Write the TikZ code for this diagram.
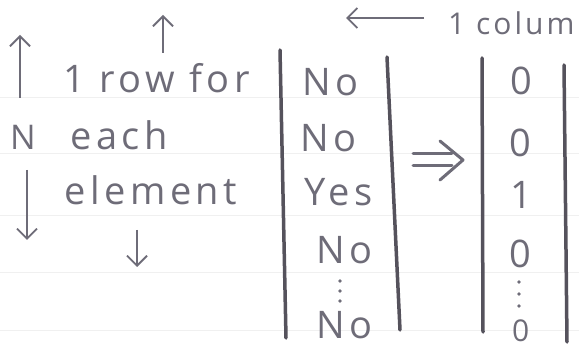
\documentclass[tikz,border=0pt]{standalone}
\usepackage{fontspec}
\setmainfont{Open Sans}
\usetikzlibrary{arrows.meta}
\definecolor{pencil}{HTML}{6E6C78}
\definecolor{bar}{HTML}{55525C}
\tikzset{
  hand/.style={text=pencil, font=\fontsize{38}{40}\selectfont\addfontfeature{LetterSpace=12}, inner sep=0pt, anchor=base west},
  handsm/.style={text=pencil, font=\fontsize{34}{36}\selectfont, inner sep=0pt, anchor=base west},
  harrow/.style={draw=pencil, line width=1.8pt, -{Straight Barb[length=10pt,width=20pt]}},
  barline/.style={draw=bar, line width=3.5pt, line cap=round},
  implies/.style={draw=pencil, line width=3pt, line cap=round},
  ruled/.style={draw=gray!12, line width=0.8pt},
  dotsy/.style={fill=pencil, circle, inner sep=1.3pt}
}
\begin{document}
\begin{tikzpicture}[x=1pt,y=-1pt]
\useasboundingbox (0,0) rectangle (579,350);
\clip (0,0) rectangle (579,350);
\fill[white] (0,0) rectangle (579,350);
% faint notebook lines
\foreach \yy in {97,153,215,272,330} \draw[ruled] (0,\yy) -- (579,\yy);
% left N arrows
\coordinate (na) at (20,98); \coordinate (nb) at (20,35);
\draw[harrow] (na) -- (nb);
\node[handsm] (N) at (10,150) {N};
\coordinate (nc) at (27,170); \coordinate (nd) at (27,240);
\draw[harrow] (nc) -- (nd);
% text block
\coordinate (ua) at (163,53); \coordinate (ub) at (163,15);
\draw[harrow] (ua) -- (ub);
\node[hand] (t1) at (63,93) {1 row for};
\node[hand] (t2) at (70,150) {each};
\node[hand] (t3) at (64,205) {element};
\coordinate (da) at (137,230); \coordinate (db) at (137,267);
\draw[harrow] (da) -- (db);
% left vector
\coordinate (b1t) at (280,50); \coordinate (b1b) at (286,338);
\draw[barline] (b1t) -- (b1b);
\node[hand] (y1) at (302,96) {No};
\node[hand] (y2) at (300,152) {No};
\node[hand] (y3) at (304,206) {Yes};
\node[hand] (y4) at (316,263) {No};
\node[dotsy] (yd1) at (340,281) {};
\node[dotsy] (yd2) at (340,291) {};
\node[dotsy] (yd3) at (340,301) {};
\node[hand] (y5) at (316,338) {No};
\coordinate (b2t) at (387,57); \coordinate (b2b) at (400,330);
\draw[barline] (b2t) -- (b2b);
% implies arrow
\coordinate (i1a) at (413,154); \coordinate (i1b) at (452,154);
\coordinate (i2a) at (413,166); \coordinate (i2b) at (452,166);
\coordinate (h1) at (440,141); \coordinate (h2) at (463,160); \coordinate (h3) at (440,180);
\draw[implies] (i1a) -- (i1b);
\draw[implies] (i2a) -- (i2b);
\draw[implies, line join=round] (h1) -- (h2) -- (h3);
% right vector
\coordinate (b3t) at (482,58); \coordinate (b3b) at (483,332);
\draw[barline] (b3t) -- (b3b);
\node[hand] (z1) at (510,95) {0};
\node[hand] (z2) at (509,157) {0};
\node[hand] (z3) at (510,209) {1};
\node[hand] (z4) at (509,268) {0};
\node[dotsy] (zd1) at (519,282) {};
\node[dotsy] (zd2) at (519,294) {};
\node[dotsy] (zd3) at (519,306) {};
\node[hand, font=\fontsize{30}{32}\selectfont] (z5) at (512,341) {0};
\coordinate (b4t) at (564,65); \coordinate (b4b) at (567,342);
\draw[barline] (b4t) -- (b4b);
% top column label
\coordinate (ca) at (424,18); \coordinate (cb) at (346,18);
\draw[harrow] (ca) -- (cb);
\node[handsm, font=\fontsize{30}{32}\selectfont\addfontfeature{LetterSpace=10}] (col) at (448,35) {1 column};
\end{tikzpicture}
\end{document}
